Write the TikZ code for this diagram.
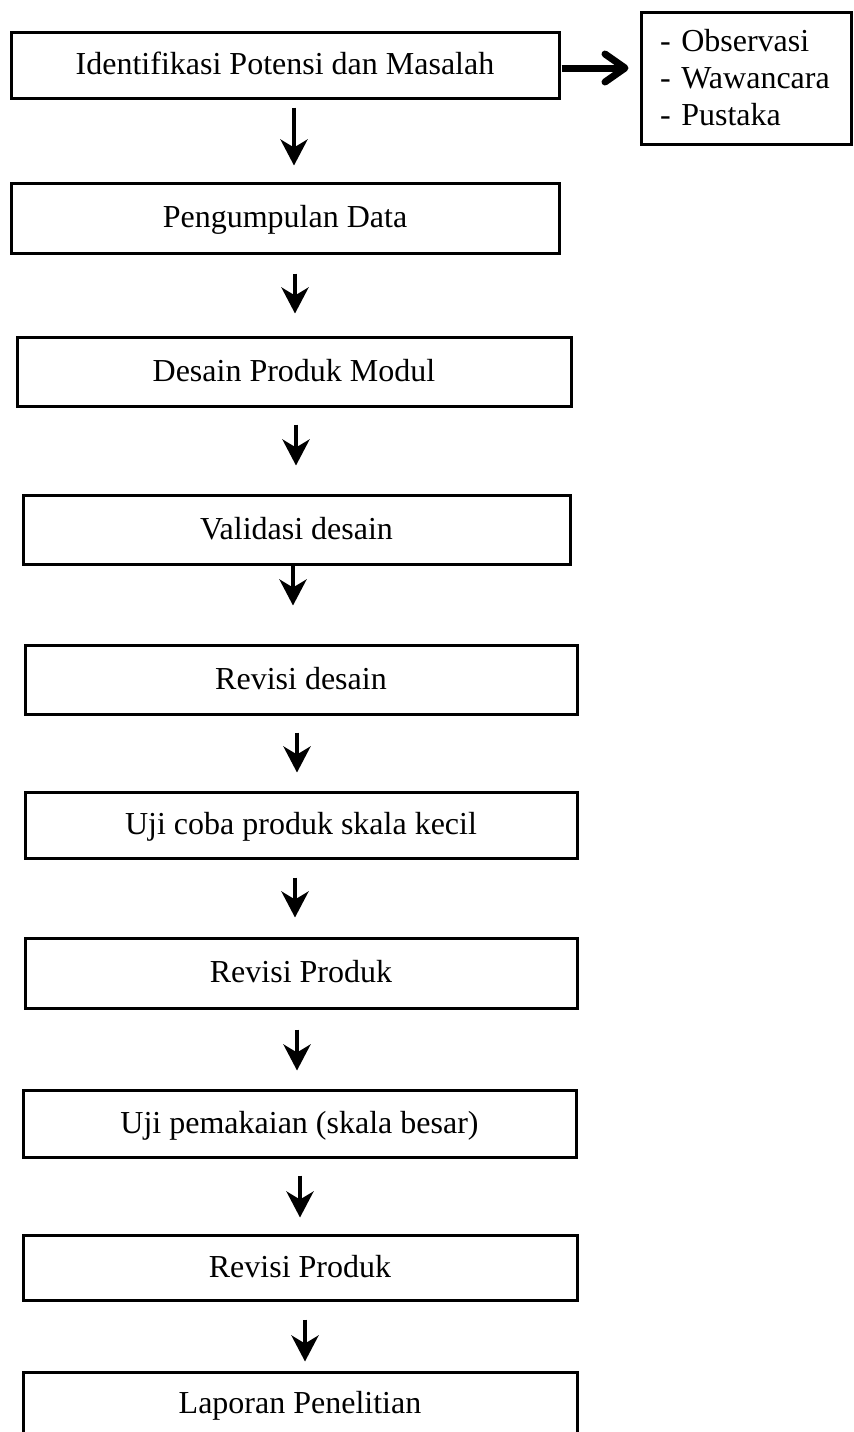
\documentclass[tikz,border=0pt]{standalone}
\usepackage{fontspec}
\setmainfont{Liberation Serif}
\usetikzlibrary{arrows.meta,calc}

\begin{document}
\begin{tikzpicture}[x=0.5pt,y=-0.5pt,
  stepbox/.style={draw, line width=1.5pt, rectangle, inner sep=0pt,
    font=\fontsize{16pt}{19pt}\selectfont, text height=11pt, text depth=1.5pt},
  listbox/.style={draw, line width=1.5pt, rectangle, inner xsep=9.5pt, inner ysep=0pt,
    align=left, font=\fontsize{16pt}{18.5pt}\selectfont},
  darr/.style={line width=2.2pt, -{Stealth[length=13pt,width=13.5pt,inset=4pt]}},
  rarr/.style={line width=3.5pt, -{Straight Barb[length=10pt,width=14pt,line cap=round,line join=round]}}]

\useasboundingbox (0,0) rectangle (853,1432);
\clip (0,0) rectangle (853,1432);

% process steps, top to bottom
\node[stepbox, minimum width=274pt,   minimum height=33pt]   (b1)  at (285,65)     {Identifikasi Potensi dan Masalah};
\node[stepbox, minimum width=274pt,   minimum height=35pt]   (b2)  at (285,218)    {Pengumpulan Data};
\node[stepbox, minimum width=277pt,   minimum height=34.5pt] (b3)  at (294,371.5)  {Desain Produk Modul};
\node[stepbox, minimum width=273.5pt, minimum height=34.5pt] (b4)  at (296.5,529.5) {Validasi desain};
\node[stepbox, minimum width=276pt,   minimum height=34.5pt] (b5)  at (301,679.5)  {Revisi desain};
\node[stepbox, minimum width=276pt,   minimum height=33pt]   (b6)  at (301,825)    {Uji coba produk skala kecil};
\node[stepbox, minimum width=276pt,   minimum height=35pt]   (b7)  at (301,973)    {Revisi Produk};
\node[stepbox, minimum width=276.5pt, minimum height=33.5pt] (b8)  at (299.5,1123.5) {Uji pemakaian (skala besar)};
\node[stepbox, minimum width=277pt,   minimum height=32.5pt] (b9)  at (300,1267.5) {Revisi Produk};
\node[stepbox, minimum width=277pt,   minimum height=32pt]   (b10) at (300,1404)   {Laporan Penelitian};

% data collection methods
\node[listbox, minimum width=105pt, minimum height=66pt, text width=86pt] (src) at (746,78)
  {- Observasi\\- Wawancara\\- Pustaka};

% connectors
\draw[rarr] ($(b1.east)+(1,3)$) -- ($(b1.east -| src.west)+(-11,3)$);

\draw[darr] ($(b1.south)+(9,8)$)    -- ($(b1.south |- b2.north)+(9,-16)$);
\draw[darr] ($(b2.south)+(10,19)$)  -- ($(b2.south |- b3.north)+(10,-22)$);
\draw[darr] ($(b3.south)+(2,17)$)   -- ($(b3.south |- b4.north)+(2,-28)$);
\draw[darr] ($(b4.south)+(-3.5,0)$) -- ($(b4.south |- b5.north)+(-3.5,-38)$);
\draw[darr] ($(b5.south)+(-4,17)$)  -- ($(b5.south |- b6.north)+(-4,-18)$);
\draw[darr] ($(b6.south)+(-6,18)$)  -- ($(b6.south |- b7.north)+(-6,-19)$);
\draw[darr] ($(b7.south)+(-4,20)$)  -- ($(b7.south |- b8.north)+(-4,-18)$);
\draw[darr] ($(b8.south)+(0.5,17)$) -- ($(b8.south |- b9.north)+(0.5,-16)$);
\draw[darr] ($(b9.south)+(5,18)$)   -- ($(b9.south |- b10.north)+(5,-9)$);

\end{tikzpicture}
\end{document}
